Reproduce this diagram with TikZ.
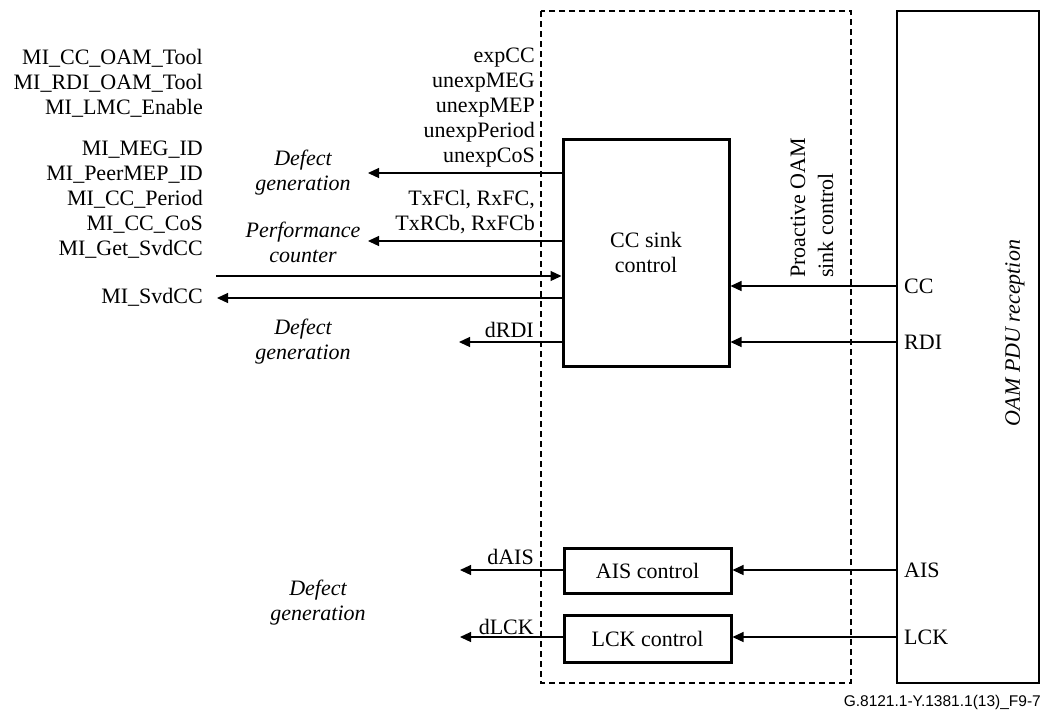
\documentclass[tikz,border=0pt]{standalone}
\usepackage{fontspec}
\setmainfont{Liberation Serif}
\newfontfamily\footfont{Liberation Sans}
\usetikzlibrary{arrows.meta}
\begin{document}
\begin{tikzpicture}[x=1pt,y=-1pt,
  every node/.style={font=\fontsize{22}{25}\selectfont, inner sep=0pt},
  thickbox/.style={draw, line width=3pt, align=center},
  thinbox/.style={draw, line width=1.3pt},
  dashbox/.style={draw, line width=1.1pt, dash pattern=on 6pt off 4pt},
  arr/.style={line width=1.2pt, -{Triangle[length=11pt,width=10pt]}},
  lbl/.style={align=right, anchor=east},
  itl/.style={align=center, font=\fontsize{22}{25}\selectfont\itshape}]
\useasboundingbox (0,0) rectangle (1043,713);
% frames
\draw[dashbox] (541,11) rectangle (851,683);
\node[thinbox, minimum width=142pt, minimum height=672pt] (oam) at (968,347) {};
\node[itl, rotate=90] (oamtxt) at (1015,333) {OAM PDU reception};
\node[align=left, rotate=90, anchor=west, font=\fontsize{22}{28}\selectfont] (pro) at (812,278) {Proactive OAM\\sink control};
% blocks
\node[thickbox, minimum width=166pt, minimum height=227pt] (ccs) at (646,252.5) {CC sink\\control};
\node[thickbox, minimum width=167pt, minimum height=45pt] (ais) at (647.5,570.5) {AIS control};
\node[thickbox, minimum width=167pt, minimum height=47pt] (lck) at (647.5,638.5) {LCK control};
% left MI labels
\node[lbl] (mi1) at (203,83) {MI\_CC\_OAM\_Tool\\MI\_RDI\_OAM\_Tool\\MI\_LMC\_Enable};
\node[lbl] (mi2) at (203,200) {MI\_MEG\_ID\\MI\_PeerMEP\_ID\\MI\_CC\_Period\\MI\_CC\_CoS\\MI\_Get\_SvdCC};
\node[lbl] (misvd) at (203,297) {MI\_SvdCC};
% right-of-box labels
\node[lbl] (exp) at (535,108) {expCC\\unexpMEG\\unexpMEP\\unexpPeriod\\unexpCoS};
\node[lbl] (tx) at (535,212.5) {TxFCl, RxFC,\\TxRCb, RxFCb};
\node[lbl] (drdi) at (534,330) {dRDI};
\node[lbl] (dais) at (534,557) {dAIS};
\node[lbl] (dlck) at (534,627) {dLCK};
% italic labels
\node[itl] (dg1) at (303,172.5) {Defect\\generation};
\node[itl] (pc) at (303,242.5) {Performance\\counter};
\node[itl] (dg2) at (303,341.5) {Defect\\generation};
\node[itl] (dg3) at (318,602.5) {Defect\\generation};
% OAM side labels
\node[anchor=west] (lcc) at (904,286) {CC};
\node[anchor=west] (lrdi) at (904,342) {RDI};
\node[anchor=west] (lais) at (904,570) {AIS};
\node[anchor=west] (llck) at (904,637) {LCK};
% footer
\node[anchor=base east, font=\footfont\fontsize{15.5}{18}\selectfont] (foot) at (1041,706) {G.8121.1-Y.1381.1(13)\_F9-7};
% free ends
\coordinate (e1) at (368,173);
\coordinate (e2) at (368,241);
\coordinate (e3) at (216,276);
\coordinate (e4) at (217,298);
\coordinate (e5) at (459,342);
\coordinate (e6) at (460,570);
\coordinate (e7) at (460,637);
\coordinate (r1) at (0,286);
\coordinate (r2) at (0,342);
\coordinate (r3) at (0,570);
\coordinate (r4) at (0,637);
% connectors
\draw[arr] (ccs.west |- e1) -- (e1);
\draw[arr] (ccs.west |- e2) -- (e2);
\draw[arr] (e3) -- (ccs.west |- e3);
\draw[arr] (ccs.west |- e4) -- (e4);
\draw[arr] (ccs.west |- e5) -- (e5);
\draw[arr] (oam.west |- r1) -- (ccs.east |- r1);
\draw[arr] (oam.west |- r2) -- (ccs.east |- r2);
\draw[arr] (oam.west |- r3) -- (ais.east |- r3);
\draw[arr] (oam.west |- r4) -- (lck.east |- r4);
\draw[arr] (ais.west |- e6) -- (e6);
\draw[arr] (lck.west |- e7) -- (e7);
\end{tikzpicture}
\end{document}
